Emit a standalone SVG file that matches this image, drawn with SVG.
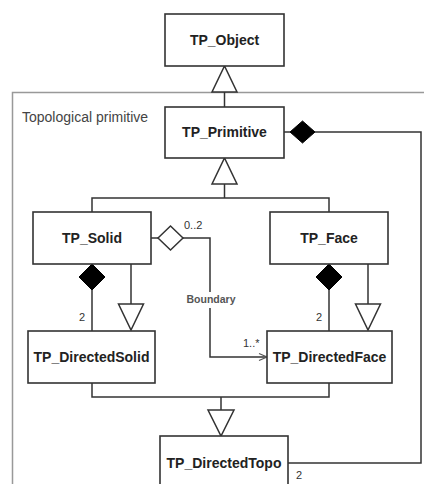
<svg xmlns="http://www.w3.org/2000/svg" width="424" height="484" viewBox="0 0 424 484">
  <style>
    .box { fill: #fff; stroke: #333; stroke-width: 1.6; }
    .name { font-family: "Liberation Sans", Arial, sans-serif; font-size: 14px; font-weight: bold; fill: #222; text-anchor: middle; }
    .pkg { fill: none; stroke: #999; stroke-width: 1.5; }
    .pkgname { font-family: "Liberation Sans", Arial, sans-serif; font-size: 14px; fill: #444; }
    .line { fill: none; stroke: #333; stroke-width: 1.5; }
    .thin { fill: none; stroke: #555; stroke-width: 1.2; }
    .hollow { fill: #fff; stroke: #333; stroke-width: 1.5; }
    .filled { fill: #000; stroke: #000; stroke-width: 1; }
    .lbl { font-family: "Liberation Sans", Arial, sans-serif; font-size: 11px; fill: #333; }
    .role { font-family: "Liberation Sans", Arial, sans-serif; font-size: 10.5px; font-weight: bold; fill: #555; text-anchor: middle; }
  </style>

  <!-- package frame -->
  <g id="package">
    <rect class="pkg" x="12.5" y="92.5" width="430" height="420"/>
    <text class="pkgname" x="22" y="122">Topological primitive</text>
  </g>

  <!-- connectors -->
  <g id="connectors">
    <!-- TP_Primitive specialises TP_Object -->
    <line class="line" x1="224.5" y1="107" x2="224.5" y2="92"/>
    <polygon class="hollow" points="212,92 237,92 224.5,66"/>

    <!-- TP_Solid, TP_Face specialise TP_Primitive -->
    <polyline class="line" points="92,212 92,198 329,198 329,212"/>
    <line class="line" x1="224.5" y1="198" x2="224.5" y2="184"/>
    <polygon class="hollow" points="212,184 237,184 224.5,158"/>

    <!-- TP_Primitive composed with TP_DirectedTopo -->
    <line class="line" x1="284" y1="132" x2="290" y2="132"/>
    <polygon class="filled" points="290,132 302.5,121 315,132 302.5,143"/>
    <polyline class="line" points="315,132 421,132 421,463 288,463"/>
    <text class="lbl" x="296" y="479">2</text>

    <!-- TP_Solid composed with TP_DirectedSolid -->
    <polygon class="filled" points="92,264 105,277 92,290 79,277"/>
    <line class="line" x1="92" y1="290" x2="92" y2="331"/>
    <text class="lbl" x="82" y="321" text-anchor="middle">2</text>

    <!-- TP_Solid specialises TP_DirectedSolid -->
    <line class="line" x1="131" y1="264" x2="131" y2="304"/>
    <polygon class="hollow" points="118.5,304 143.5,304 131,330"/>

    <!-- TP_Face composed with TP_DirectedFace -->
    <polygon class="filled" points="329,264 342,277 329,290 316,277"/>
    <line class="line" x1="329" y1="290" x2="329" y2="331"/>
    <text class="lbl" x="319" y="321" text-anchor="middle">2</text>

    <!-- TP_Face specialises TP_DirectedFace -->
    <line class="line" x1="368" y1="264" x2="368" y2="304"/>
    <polygon class="hollow" points="355.5,304 380.5,304 368,330"/>

    <!-- Boundary aggregation TP_Solid to TP_DirectedFace -->
    <line class="line" x1="151" y1="238" x2="158" y2="238"/>
    <polygon class="hollow" points="158,238 170.5,226 183,238 170.5,250"/>
    <polyline class="line" points="183,238 210,238 210,292"/>
    <polyline class="line" points="210,308 210,357 266,357"/>
    <polyline class="thin" points="259,353.5 267,357 259,360.5"/>
    <text class="lbl" x="184" y="229">0..2</text>
    <text class="role" x="211" y="303">Boundary</text>
    <text class="lbl" x="243" y="347" font-size="10">1..*</text>

    <!-- directed primitives specialise TP_DirectedTopo -->
    <polyline class="line" points="92,383 92,397 329,397 329,383"/>
    <line class="line" x1="221" y1="397" x2="221" y2="410"/>
    <polygon class="hollow" points="208,410 234,410 221,436"/>
  </g>

  <!-- classes -->
  <g id="TP_Object">
    <rect class="box" x="165" y="14" width="119" height="52"/>
    <text class="name" x="224.5" y="45">TP_Object</text>
  </g>
  <g id="TP_Primitive">
    <rect class="box" x="165" y="107" width="119" height="51"/>
    <text class="name" x="224.5" y="137">TP_Primitive</text>
  </g>
  <g id="TP_Solid">
    <rect class="box" x="33" y="212" width="118" height="52"/>
    <text class="name" x="92" y="243">TP_Solid</text>
  </g>
  <g id="TP_Face">
    <rect class="box" x="270" y="212" width="118" height="52"/>
    <text class="name" x="329" y="243">TP_Face</text>
  </g>
  <g id="TP_DirectedSolid">
    <rect class="box" x="28" y="331" width="127" height="52"/>
    <text class="name" x="91.5" y="362">TP_DirectedSolid</text>
  </g>
  <g id="TP_DirectedFace">
    <rect class="box" x="267" y="331" width="125" height="52"/>
    <text class="name" x="329.5" y="362">TP_DirectedFace</text>
  </g>
  <g id="TP_DirectedTopo">
    <rect class="box" x="160" y="436" width="128" height="60"/>
    <text class="name" x="224" y="468">TP_DirectedTopo</text>
  </g>
</svg>
